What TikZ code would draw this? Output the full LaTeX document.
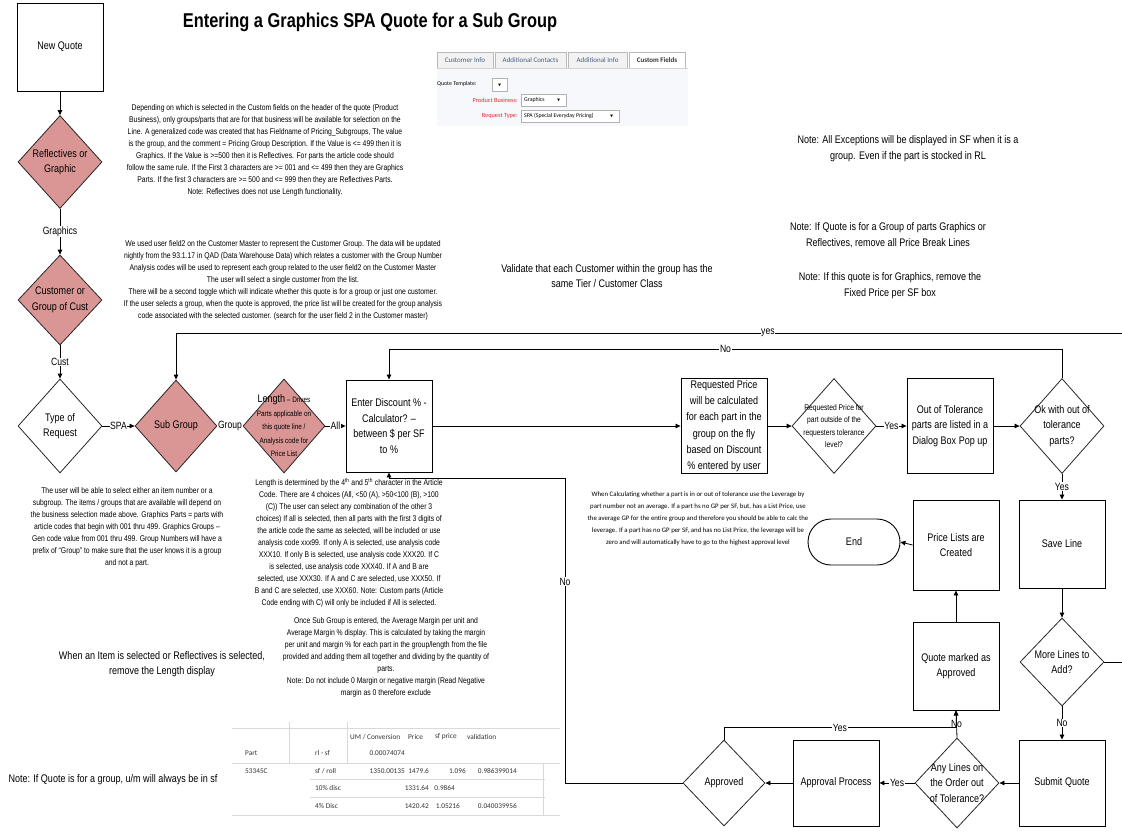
\documentclass[tikz,border=0pt]{standalone}
\usepackage{fontspec}
\setmainfont{Liberation Sans}[FakeStretch=0.82]
\newfontfamily\calfont{Carlito}
\usetikzlibrary{shapes.geometric,arrows.meta}
\definecolor{salmon}{RGB}{217,150,148}
\definecolor{uired}{RGB}{228,40,45}
\definecolor{uiblue}{RGB}{70,95,130}
\definecolor{uipanel}{RGB}{246,248,251}
\newcommand\bxf{\fontsize{11}{15.5}\selectfont}
\begin{document}
\begin{tikzpicture}[x=1pt,y=-1pt,
 lbl/.style={align=center,font=\bxf,inner sep=0pt},
 T/.style={label={[lbl]center:{#1}}},
 box/.style={draw,line width=0.9pt,minimum width=86pt,minimum height=90pt,inner sep=0pt},
 dia/.style={diamond,draw=black!85,line width=0.8pt,minimum width=84pt,minimum height=94pt,inner sep=0pt},
 pinkfill/.style={fill=salmon},
 arr/.style={-{Triangle[length=5pt,width=4.5pt]},line width=0.8pt},
 elab/.style={fill=white,inner sep=0.6pt,font=\fontsize{10.5}{12}\selectfont},
 para/.style={align=center,inner sep=0pt,font=\fontsize{8.3}{12}\selectfont},
 note/.style={align=center,inner sep=0pt,font=\fontsize{11}{15.5}\selectfont},
 tol/.style={align=center,inner sep=0pt,font=\calfont\fontsize{6.8}{12}\selectfont},
 tab/.style={draw=gray!55,fill=gray!10,line width=0.4pt,inner sep=0pt,font=\calfont\fontsize{7}{8}\selectfont,text=uiblue},
 ddbox/.style={draw=gray!60,fill=white,line width=0.4pt},
 tcell/.style={inner sep=0pt,font=\calfont\fontsize{7.3}{8}\selectfont,text=black!80},
]
\useasboundingbox (0,0) rectangle (1122,831);

% title
\node[font=\bfseries\fontsize{20}{24}\selectfont] (title) at (370,22) {Entering a Graphics SPA Quote for a Sub Group};

% ---- UI screenshot ----
\node[tab,minimum width=56,minimum height=16] (tab1) at (465,60) {Customer Info};
\node[tab,minimum width=71,minimum height=16] (tab2) at (530.5,60) {Additional Contacts};
\node[tab,minimum width=59,minimum height=16] (tab3) at (597.5,60) {Additional Info};
\node[tab,fill=white,text=black!80,minimum width=56,minimum height=16,font=\calfont\bfseries\fontsize{7}{8}\selectfont] (tab4) at (657,60) {Custom Fields};
\fill[uipanel] (437,68) rectangle (688,126);
\draw[gray!35,line width=0.4pt] (437,68) -- (688,68);
\node[anchor=west,inner sep=0pt,font=\calfont\fontsize{5.8}{6}\selectfont] (qt) at (437,84) {Quote Template:};
\draw[ddbox] (492,78) rectangle (507,91);
\fill (498,83.5) -- ++(3,0) -- ++(-1.5,2.5) -- cycle;
\node[anchor=east,inner sep=0pt,font=\calfont\fontsize{6.3}{7}\selectfont,text=uired] (pb) at (518,100) {Product Business:};
\draw[ddbox] (521,94) rectangle (566,106);
\node[anchor=west,inner sep=0pt,font=\calfont\fontsize{5.8}{6}\selectfont] (pbv) at (524,100) {Graphics};
\fill (557,98.5) -- ++(3,0) -- ++(-1.5,2.5) -- cycle;
\node[anchor=east,inner sep=0pt,font=\calfont\fontsize{6.3}{7}\selectfont,text=uired] (rt) at (518,116) {Request Type:};
\draw[ddbox] (521,110) rectangle (619,122);
\node[anchor=west,inner sep=0pt,font=\calfont\fontsize{5.8}{6}\selectfont] (rtv) at (524,116) {SPA (Special Everyday Pricing)};
\fill (610,114.5) -- ++(3,0) -- ++(-1.5,2.5) -- cycle;

% ---- flow nodes ----
\node[box,minimum height=88,T={New Quote}] (nq) at (60,47) {};
\node[dia,pinkfill,minimum height=93,T={Reflectives or\\Graphic}] (rg) at (60,162) {};
\node[dia,pinkfill,minimum height=90,T={Customer or\\Group of Cust}] (cg) at (60,300) {};
\node[dia,T={Type of\\Request}] (tr) at (60,426) {};
\node[dia,pinkfill,minimum width=82,minimum height=92,T={Sub Group}] (sg) at (176,426) {};
\node[dia,pinkfill,minimum width=82,minimum height=94,
  label={[lbl,font=\fontsize{7.8}{13.5}\selectfont]center:{{\fontsize{11}{13.5}\selectfont Length} -- Drives\\Parts applicable on\\this quote line /\\Analysis code for\\Price List}}] (len) at (284,426) {};
\node[box,minimum height=92,T={Enter Discount \% -\\Calculator? --\\between \$ per SF\\to \%}] (disc) at (389,426) {};
\node[box,minimum height=95,label={[lbl,font=\fontsize{11}{16.3}\selectfont]center:{Requested Price\\will be calculated\\for each part in the\\group on the fly\\based on Discount\\\% entered by user}}] (rp) at (724,426) {};
\node[dia,minimum height=95,label={[lbl,font=\fontsize{8.2}{12.5}\selectfont]center:{Requested Price for\\part outside of the\\requesters tolerance\\level?}}] (rd) at (834,426) {};
\node[box,minimum height=95,T={Out of Tolerance\\parts are listed in a\\Dialog Box Pop up}] (ot) at (950,426) {};
\node[dia,minimum height=95,T={Ok with out of\\tolerance\\parts?}] (ok) at (1062,426) {};
\node[box,minimum height=88,T={Save Line}] (sl) at (1062,544) {};
\node[dia,minimum height=88,T={More Lines to\\Add?}] (ml) at (1062,662) {};
\node[box,minimum height=86,T={Submit Quote}] (sq) at (1062,783) {};
\node[dia,minimum height=90,T={Any Lines on\\the Order out\\of Tolerance?}] (al) at (957,783) {};
\node[box,minimum height=86,T={Approval Process}] (ap) at (836,783) {};
\node[dia,minimum width=82,minimum height=86,T={Approved}] (apd) at (724,783) {};
\node[box,minimum height=88,T={Quote marked as\\Approved}] (qm) at (956,666) {};
\node[box,minimum height=90,T={Price Lists are\\Created}] (pl) at (956,545) {};
\node[draw,line width=0.9pt,rounded corners=23pt,minimum width=92,minimum height=46,inner sep=0pt,T={End}] (end) at (854,542) {};

% ---- connectors ----
\coordinate (noY) at (0,349);
\coordinate (yesY) at (0,333);
\coordinate (yesR) at (1140,662);
\coordinate (backX) at (565,478);
\draw[arr] (nq.south) -- (rg.north);
\draw[arr] (rg.south) -- node[elab]{Graphics} (cg.north);
\draw[arr] (cg.south) -- node[elab]{Cust} (tr.north);
\draw[arr] (tr.east) -- node[elab]{SPA} (sg.west);
\draw[arr] (sg.east) -- node[elab]{Group} (len.west);
\draw[arr] (len.east) -- node[elab]{All} (disc.west);
\draw[arr] (disc.east) -- (rp.west);
\draw[arr] (rp.east) -- (rd.west);
\draw[arr] (rd.east) -- node[elab]{Yes} (ot.west);
\draw[arr] (ot.east) -- (ok.west);
\draw[arr] (ok.north) |- node[elab,pos=0.75]{No} (disc.north |- noY) -- (disc.north);
\draw[arr] (ok.south) -- node[elab]{Yes} (sl.north);
\draw[arr] (sl.south) -- (ml.north);
\draw[arr] (ml.south) -- node[elab]{No} (sq.north);
\draw[arr] (ml.east) -- (yesR) |- node[elab,pos=0.693]{yes} (sg.north |- yesY) -- (sg.north);
\draw[arr] (sq.west) -- (al.east);
\draw[arr] (al.north) -- node[elab]{No} (qm.south);
\draw[arr] (al.west) -- node[elab]{Yes} (ap.east);
\draw[arr] (ap.west) -- (apd.east);
\draw[arr] (apd.north) -- ++(0,-12) -| node[elab,pos=0.25]{Yes} (qm.south);
\draw[arr] (apd.west) -| node[elab,pos=0.83]{No} (backX) -| (disc.south);
\draw[arr] (qm.north) -- (pl.south);
\draw[arr] (pl.west) -- (end.east);

% ---- text blocks ----
\node[para] (p1) at (265,150) {Depending on which is selected in the Custom fields on the header of the quote (Product\\
Business), only groups/parts that are for that business will be available for selection on the\\
Line.  A generalized code was created that has Fieldname of Pricing\_Subgroups, The value\\
is the group, and the comment = Pricing Group Description.  If the Value is <= 499 then it is\\
Graphics.  If the Value is >=500 then it is Reflectives.  For parts the article code should\\
follow the same rule.  If the First 3 characters are >= 001 and <= 499 then they are Graphics\\
Parts.  If the first 3 characters are >= 500 and <= 999 then they are Reflectives Parts.\\
Note: Reflectives does not use Length functionality.};

\node[para] (p2) at (283,280) {We used user field2 on the Customer Master to represent the Customer Group.  The data will be updated\\
nightly from the 93.1.17 in QAD (Data Warehouse Data) which relates a customer with the Group Number\\
Analysis codes will be used to represent each group related to the user field2 on the Customer Master\\
The user will select a single customer from the list.\\
There will be a second toggle which will indicate whether this quote is for a group or just one customer.\\
If the user selects a group, when the quote is approved, the price list will be created for the group analysis\\
code associated with the selected customer.  (search for the user field 2 in the Customer master)};

\node[para] (p3) at (127,527) {The user will be able to select either an item number or a\\
subgroup.  The items / groups that are available will depend on\\
the business selection made above.  Graphics Parts = parts with\\
article codes that begin with 001 thru 499.  Graphics Groups --\\
Gen code value from 001 thru 499.  Group Numbers will have a\\
prefix of ``Group'' to make sure that the user knows it is a group\\
and not a part.};

\node[para] (p4) at (349,543) {Length is determined by the 4\textsuperscript{th} and 5\textsuperscript{th} character in the Article\\
Code.  There are 4 choices (All, <50 (A), >50<100 (B), >100\\
(C)) The user can select any combination of the other 3\\
choices)  If all is selected, then all parts with the first 3 digits of\\
the article code the same as selected, will be included or use\\
analysis code xxx99.  If only A is selected, use analysis code\\
XXX10.  If only B is selected, use analysis code XXX20.  If C\\
is selected, use analysis code XXX40.  If A and B are\\
selected, use XXX30.  If A and C are selected, use XXX50.  If\\
B and C are selected, use XXX60.  Note: Custom parts (Article\\
Code ending with C) will only be included if All is selected.};

\node[para] (p5) at (386,657) {Once Sub Group is entered, the Average Margin per unit and\\
Average Margin \% display.  This is calculated by taking the margin\\
per unit and margin \% for each part in the group/length from the file\\
provided and adding them all together and dividing by the quantity of\\
parts.\\
Note: Do not include 0 Margin or negative margin (Read Negative\\
margin as 0 therefore exclude};

\node[tol] (p6) at (698,519) {When Calculating whether a part is in or out of tolerance use the Leverage by\\
part number not an average.  If a part hs no GP per SF, but, has a List Price, use\\
the average GP for the entire group and therefore you should be able to calc the\\
leverage.  If a part has no GP per SF, and has no List Price, the leverage will be\\
zero and will automatically have to go to the highest approval level};

\node[note] (n1) at (908,148.5) {Note: All Exceptions will be displayed in SF when it is a\\group.  Even if the part is stocked in RL};
\node[note] (n2) at (888,235) {Note: If Quote is for a Group of parts Graphics or\\Reflectives, remove all Price Break Lines};
\node[note] (n3) at (890,285.5) {Note: If this quote is for Graphics, remove the\\Fixed Price per SF box};
\node[note] (n4) at (607,276) {Validate that each Customer within the group has the\\same Tier / Customer Class};
\node[note] (n5) at (162,664) {When an Item is selected or Reflectives is selected,\\remove the Length display};
\node[note] (n6) at (113,780) {Note: If Quote is for a group, u/m will always be in sf};

% ---- spreadsheet ----
\draw[gray!30,line width=0.5pt] (232,728) -- (560,728);
\draw[gray!30,line width=0.5pt] (232,763) -- (560,763);
\draw[gray!30,line width=0.5pt] (310,779) -- (545,779);
\draw[gray!30,line width=0.5pt] (310,797) -- (545,797);
\draw[gray!30,line width=0.5pt] (232,815) -- (560,815);
\draw[gray!30,line width=0.5pt] (289,722) -- (289,763);
\draw[gray!30,line width=0.5pt] (347,722) -- (347,763);
\draw[gray!30,line width=0.5pt] (543,763) -- (543,815);
\node[tcell,anchor=west] (c1) at (350,737) {UM / Conversion};
\node[tcell,anchor=west] (c2) at (408,737) {Price};
\node[tcell,anchor=west] (c3) at (435,737) {sf price};
\node[tcell,anchor=west] (c4) at (467,737) {validation};
\node[tcell,anchor=west] (c5) at (245,753) {Part};
\node[tcell,anchor=west] (c6) at (315,753) {rl - sf};
\node[tcell,anchor=east] (c7) at (405,753) {0.00074074};
\node[tcell,anchor=west] (c8) at (245,771) {53345C};
\node[tcell,anchor=west] (c9) at (315,771) {sf / roll};
\node[tcell,anchor=east] (c10) at (405,771) {1350.00135};
\node[tcell,anchor=east] (c11) at (429,771) {1479.6};
\node[tcell,anchor=east] (c12) at (466,771) {1.096};
\node[tcell,anchor=east] (c13) at (517,771) {0.986399014};
\node[tcell,anchor=west] (c14) at (315,788) {10\% disc};
\node[tcell,anchor=east] (c15) at (429,788) {1331.64};
\node[tcell,anchor=east] (c16) at (455,788) {0.9864};
\node[tcell,anchor=west] (c17) at (315,806) {4\% Disc};
\node[tcell,anchor=east] (c18) at (429,806) {1420.42};
\node[tcell,anchor=east] (c19) at (460,806) {1.05216};
\node[tcell,anchor=east] (c20) at (517,806) {0.040039956};
\end{tikzpicture}
\end{document}
